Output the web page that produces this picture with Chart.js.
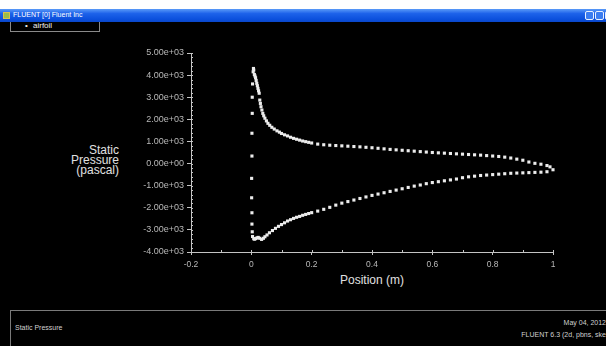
<!DOCTYPE html>
<html>
<head>
<meta charset="utf-8">
<script src="https://cdn.jsdelivr.net/npm/chart.js@4"></script>
<style>
  html, body { margin: 0; padding: 0; }
  body { width: 606px; height: 346px; background: #000; position: relative; overflow: hidden; font-family: "Liberation Sans", Arial, sans-serif; }
  #topgap { position: absolute; left: 0; top: 0; width: 606px; height: 9px; background: #fff; }
  #titlebar { position: absolute; left: 0; top: 9px; width: 606px; height: 13px;
    background: linear-gradient(#5a9af8, #1d62ea 35%, #0b4fdc 80%, #0a46c8); }
  #titlebar .icon { position: absolute; left: 3px; top: 3px; width: 7px; height: 7px; background: #9bbd4a; border: 1px solid #d8c050; box-sizing: border-box; }
  #titlebar .txt { position: absolute; left: 13px; top: 2px; font-size: 7px; color: #fff; white-space: nowrap; }
  #titlebar .btn { position: absolute; top: 2px; width: 9px; height: 9px; box-sizing: border-box; border: 1px solid #e8f0ff; border-radius: 2px; background: #3b7cf0; }
  #titlebar .close { background: #d8502a; }
  #legend { position: absolute; left: 10px; top: 22px; width: 90px; height: 10px; box-sizing: border-box; border: 1px solid #8a8a8a; border-top: none; }
  #legend span { position: absolute; top: -1px; font-size: 8px; color: #eee; }
  #ytitle { position: absolute; right: 487px; top: 145px; text-align: right; font-size: 12px; line-height: 10px; color: #e0e0e0; }
  #xtitle { position: absolute; left: 340px; top: 273px; font-size: 12px; color: #e0e0e0; white-space: nowrap; }
  #footer { position: absolute; left: 10px; top: 310px; width: 600px; height: 40px; border-top: 1px solid #7a7a7a; border-left: 1px solid #7a7a7a; }
  .ft { position: absolute; font-size: 7px; color: #d0d0d0; white-space: nowrap; }
  #chartCanvas { position: absolute; left: 0; top: 0; }
</style>
</head>
<body>
<div id="topgap"></div>
<div id="titlebar">
  <div class="icon"></div>
  <div class="txt">FLUENT [0] Fluent Inc</div>
  <div class="btn" style="left:585px"></div>
  <div class="btn" style="left:595px"></div>
  <div class="btn close" style="left:605px"></div>
</div>
<div id="legend"><span style="left:14px">•</span><span style="left:22px">airfoil</span></div>
<div id="ytitle">Static<br>Pressure<br>(pascal)</div>
<div id="xtitle">Position (m)</div>
<div id="footer"></div>
<div class="ft" style="left:15px; top:324px">Static Pressure</div>
<div class="ft" style="right:0px; top:319px">May 04, 2012</div>
<div class="ft" style="right:0px; top:331px">FLUENT 6.3 (2d, pbns, ske</div>
<canvas id="chartCanvas" width="606" height="346"></canvas>
<script>
// upper surface (position m, static pressure Pa)
const xUpper = [0.002, 0.002, 0.003, 0.003, 0.004, 0.006, 0.007, 0.008, 0.010, 0.012,
  0.014, 0.016, 0.018, 0.020, 0.022, 0.024, 0.026, 0.028, 0.030, 0.032,
  0.035, 0.038, 0.041, 0.045, 0.050, 0.055, 0.061, 0.068, 0.076, 0.085,
  0.093, 0.10, 0.11, 0.12, 0.13, 0.14, 0.15, 0.16, 0.17, 0.18,
  0.19, 0.20, 0.22, 0.24, 0.26, 0.28, 0.30, 0.32, 0.34, 0.36,
  0.38, 0.40, 0.42, 0.44, 0.46, 0.48, 0.50, 0.52, 0.54, 0.56,
  0.58, 0.60, 0.62, 0.64, 0.66, 0.68, 0.70, 0.72, 0.74, 0.76,
  0.78, 0.80, 0.82, 0.84, 0.86, 0.88, 0.90, 0.92, 0.94, 0.96,
  0.98, 0.99];
const pUpper = [340, 1370, 2270, 3000, 3600, 4150, 4300, 4230, 4030, 3960,
  3880, 3760, 3630, 3520, 3400, 3290, 3180, 2870, 2720, 2570,
  2420, 2270, 2160, 2050, 1930, 1820, 1730, 1640, 1560, 1480,
  1420, 1360, 1300, 1250, 1190, 1140, 1100, 1060, 1020, 990,
  960, 930, 880, 850, 830, 815, 800, 785, 770, 755,
  735, 715, 690, 665, 640, 620, 600, 580, 560, 540,
  520, 500, 485, 470, 455, 440, 425, 410, 395, 380,
  360, 340, 320, 290, 250, 200, 150, 70, 10, -30,
  -90, -150];

// lower surface
const xLower = [0.001, 0.001, 0.002, 0.002, 0.003, 0.004, 0.008, 0.011, 0.015, 0.019,
  0.023, 0.028, 0.034, 0.040, 0.045, 0.052, 0.060, 0.070, 0.080, 0.090,
  0.10, 0.11, 0.12, 0.13, 0.14, 0.15, 0.16, 0.17, 0.18, 0.19,
  0.20, 0.22, 0.24, 0.26, 0.28, 0.30, 0.32, 0.34, 0.36, 0.38,
  0.40, 0.42, 0.44, 0.46, 0.48, 0.50, 0.52, 0.54, 0.56, 0.58,
  0.60, 0.62, 0.64, 0.66, 0.68, 0.70, 0.72, 0.74, 0.76, 0.78,
  0.80, 0.82, 0.84, 0.86, 0.88, 0.90, 0.92, 0.94, 0.96, 0.98,
  1.00];
const pLower = [-670, -1548, -2226, -2738, -3086, -3300, -3400, -3420, -3390, -3360,
  -3340, -3380, -3430, -3380, -3310, -3230, -3130, -3030, -2930, -2840,
  -2760, -2680, -2600, -2540, -2480, -2430, -2390, -2340, -2300, -2260,
  -2220, -2150, -2070, -1980, -1880, -1790, -1720, -1650, -1580, -1510,
  -1440, -1380, -1320, -1260, -1200, -1140, -1080, -1020, -970, -910,
  -860, -820, -780, -740, -700, -640, -600, -570, -540, -520,
  -500, -480, -460, -440, -430, -420, -410, -400, -390, -370,
  -280];

const xTickValues = [-0.2, 0, 0.2, 0.4, 0.6, 0.8, 1];
const xTickLabels = ['-0.2', '0', '0.2', '0.4', '0.6', '0.8', '1'];
const yTickValues = [-4000, -3000, -2000, -1000, 0, 1000, 2000, 3000, 4000, 5000];
const yTickLabels = ['-4.00e+03', '-3.00e+03', '-2.00e+03', '-1.00e+03', '0.00e+00',
  '1.00e+03', '2.00e+03', '3.00e+03', '4.00e+03', '5.00e+03'];

const points = [];
xUpper.forEach((x, i) => points.push({ x: x, y: pUpper[i] }));
xLower.forEach((x, i) => points.push({ x: x, y: pLower[i] }));

const axisColor = '#c4c4c4';
const labelColor = '#b8b8b8';

// small in-between ticks, Fluent style
const minorTicks = {
    id: 'minorTicks',
    afterDraw(chart) {
        const ctx = chart.ctx;
        const xs = chart.scales.x, ys = chart.scales.y;
        ctx.save();
        ctx.strokeStyle = axisColor;
        ctx.lineWidth = 1;
        ctx.beginPath();
        for (let v = -4000; v <= 5000; v += 200) {
            const py = Math.round(ys.getPixelForValue(v)) + 0.5;
            ctx.moveTo(xs.left, py);
            ctx.lineTo(xs.left + 2, py);
        }
        for (let v = -2; v <= 10; v += 1) {
            const px = Math.round(xs.getPixelForValue(v / 10)) + 0.5;
            ctx.moveTo(px, ys.bottom);
            ctx.lineTo(px, ys.bottom - 2);
        }
        ctx.stroke();
        ctx.restore();
    }
};

new Chart(document.getElementById('chartCanvas').getContext('2d'), {
    type: 'scatter',
    data: {
        datasets: [{
            label: 'airfoil',
            data: points,
            pointStyle: 'rect',
            pointRadius: 2.2,
            pointBorderWidth: 0,
            backgroundColor: '#ececec',
            borderColor: '#ececec',
            clip: false
        }]
    },
    options: {
        responsive: false,
        animation: false,
        devicePixelRatio: 1,
        layout: { padding: { top: 53, right: 53, left: 0, bottom: 0 } },
        plugins: { legend: { display: false }, tooltip: { enabled: false } },
        scales: {
            x: {
                type: 'linear',
                min: -0.2,
                max: 1,
                afterFit(scale) { scale.height = 94; },
                afterBuildTicks(scale) { scale.ticks = xTickValues.map(v => ({ value: v })); },
                grid: { drawOnChartArea: false, color: axisColor, tickLength: 3 },
                border: { color: axisColor },
                ticks: {
                    color: labelColor,
                    font: { family: 'Liberation Sans', size: 8.5 },
                    padding: 5,
                    maxRotation: 0,
                    callback: (v, i) => xTickLabels[i]
                }
            },
            y: {
                type: 'linear',
                min: -4000,
                max: 5000,
                afterFit(scale) { scale.width = 191; },
                afterBuildTicks(scale) { scale.ticks = yTickValues.map(v => ({ value: v })); },
                grid: { drawOnChartArea: false, color: axisColor, tickLength: 4 },
                border: { color: axisColor },
                ticks: {
                    color: labelColor,
                    font: { family: 'Liberation Sans', size: 9 },
                    padding: 3,
                    callback: (v, i) => yTickLabels[i]
                }
            }
        }
    },
    plugins: [minorTicks]
});
</script>
</body>
</html>
